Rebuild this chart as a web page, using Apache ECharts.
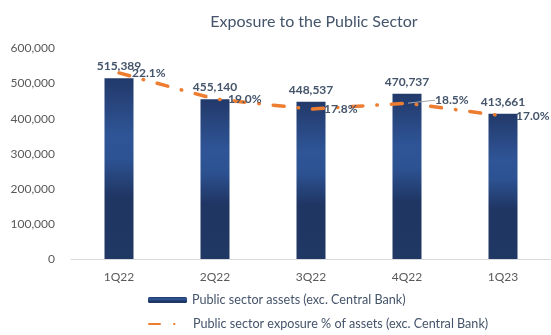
<!DOCTYPE html>
<html>
<head>
<meta charset="utf-8">
<script src="https://cdn.jsdelivr.net/npm/echarts@6/dist/echarts.min.js"></script>
<style>
  html, body { margin: 0; padding: 0; background: #ffffff; }
  #chart { width: 551px; height: 335px; }
</style>
</head>
<body>
<div id="chart"></div>
<script>
// Quarterly exposure to the public sector
const quarters = ['1Q22', '2Q22', '3Q22', '4Q22', '1Q23'];
const publicSectorAssets = [515389, 455140, 448537, 470737, 413661];
const exposurePct = [22.1, 19.0, 17.8, 18.5, 17.0];
const assetTicks = [0, 100000, 200000, 300000, 400000, 500000, 600000];

const barName = 'Public sector assets (exc. Central Bank)';
const lineName = 'Public sector exposure % of assets (exc. Central Bank)';

const FONT = 'Lato';
const TEXT_DARK = '#44546a';
const TEXT_GRAY = '#595959';

const chart = echarts.init(document.getElementById('chart'), null, { renderer: 'canvas' });

const barGradient = new echarts.graphic.LinearGradient(0, 0, 0, 1, [
  { offset: 0, color: '#22396a' },
  { offset: 0.32, color: '#2f5597' },
  { offset: 0.45, color: '#2d5292' },
  { offset: 0.66, color: '#1f3562' },
  { offset: 1, color: '#203864' }
]);

// one legend block per row, stacked under the plot
const legendRow = (name, top) => ({
  orient: 'horizontal',
  left: 143,
  top: top,
  itemWidth: 39,
  itemHeight: 6,
  itemGap: 4,
  textStyle: { fontFamily: FONT, fontSize: 12.6, color: TEXT_DARK, lineHeight: 14 },
  data: [name]
});

chart.setOption({
  animation: false,
  textStyle: { fontFamily: FONT },
  title: {
    text: 'Exposure to the Public Sector',
    left: 309,
    top: 9,
    textAlign: 'center',
    textStyle: { fontFamily: FONT, fontSize: 16, fontWeight: 'normal', color: TEXT_DARK }
  },
  grid: { left: 71, right: -7, top: 48.5, bottom: 76 },
  legend: [legendRow(barName, 288), legendRow(lineName, 312)],
  xAxis: {
    type: 'category',
    data: quarters,
    axisLine: { lineStyle: { color: '#d9d9d9', width: 1 } },
    axisTick: { show: false },
    axisLabel: { color: TEXT_GRAY, fontSize: 12, fontFamily: FONT, margin: 12 }
  },
  yAxis: [
    {
      type: 'value',
      min: assetTicks[0],
      max: assetTicks[assetTicks.length - 1],
      interval: assetTicks[1] - assetTicks[0],
      axisLine: { show: false },
      axisTick: { show: false },
      splitLine: { show: false },
      axisLabel: {
        color: TEXT_GRAY, fontSize: 12, fontFamily: FONT, margin: 16,
        formatter: v => v.toLocaleString('en-US')
      }
    },
    {
      type: 'value',
      min: 0,
      max: 25,
      show: false,
      splitLine: { show: false }
    }
  ],
  series: [
    {
      name: barName,
      type: 'bar',
      data: publicSectorAssets,
      barWidth: 29,
      itemStyle: { color: barGradient },
      label: {
        show: true,
        position: 'top',
        distance: 6,
        color: TEXT_DARK,
        fontWeight: 'bold',
        fontSize: 12,
        fontFamily: FONT,
        formatter: p => p.value.toLocaleString('en-US')
      }
    },
    {
      name: lineName,
      type: 'line',
      yAxisIndex: 1,
      z: 3,
      data: exposurePct.map((v, i) => i === 3
        ? { value: v, labelLine: { show: true, lineStyle: { color: '#a6a6a6', width: 1 } } }
        : v),
      symbol: 'circle',
      symbolSize: 2,
      itemStyle: { color: 'rgba(0,0,0,0)' },
      lineStyle: {
        color: '#ed7d31',
        width: 3.5,
        type: [11, 14, 0.5, 14],
        cap: 'round'
      },
      label: {
        show: true,
        position: 'right',
        distance: 12,
        color: TEXT_DARK,
        fontWeight: 'bold',
        fontSize: 12,
        fontFamily: FONT,
        formatter: p => p.value.toFixed(1) + '%'
      },
      labelLayout: p => (p.dataIndex === 3 ? { dx: 15, dy: -3 } : {})
    }
  ]
});
</script>
</body>
</html>
